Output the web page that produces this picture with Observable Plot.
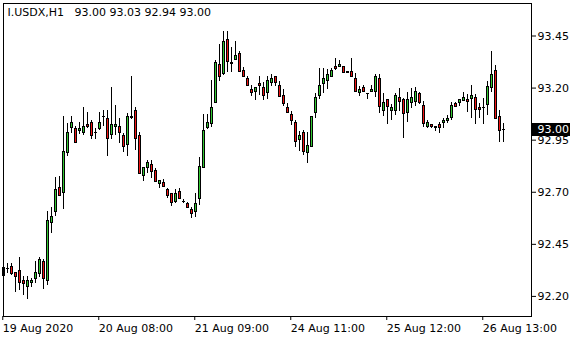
<!DOCTYPE html>
<html>
<head>
<meta charset="utf-8">
<script src="https://cdn.jsdelivr.net/npm/d3@7"></script>
<script src="https://cdn.jsdelivr.net/npm/@observablehq/plot@0.6"></script>
<style>
  html, body { margin: 0; padding: 0; background: #fff; }
  svg rect, svg line { shape-rendering: crispEdges; }
</style>
</head>
<body>
<script>
const titleText = "I.USDX,H1\u00a0\u00a0\u00a093.00 93.03 92.94 93.00";

const open = [92.296,92.333,92.344,92.315,92.323,92.276,92.244,92.263,92.283,92.304,
92.368,92.273,92.551,92.604,92.723,92.693,92.885,93.005,93.005,92.992,
92.983,93.025,93.035,92.987,93.003,93.062,93.054,92.971,93.012,93.016,
92.971,92.923,93.053,93.092,92.972,92.776,92.813,92.832,92.804,92.736,
92.748,92.713,92.693,92.652,92.704,92.656,92.645,92.617,92.604,92.664,
92.813,93.005,93.024,93.125,93.312,93.264,93.433,93.312,93.332,93.365,
93.284,93.247,93.192,93.180,93.223,93.204,93.173,93.221,93.256,93.212,
93.164,93.105,93.073,93.036,92.948,92.988,92.885,92.913,93.079,93.161,
93.216,93.233,93.252,93.304,93.300,93.304,93.281,93.281,93.245,93.173,
93.201,93.176,93.180,93.180,93.245,93.089,93.145,93.089,93.089,93.156,
93.145,93.079,93.125,93.132,93.173,93.116,93.012,93.024,93.005,93.025,
93.031,93.040,93.053,93.125,93.125,93.136,93.145,93.145,93.153,93.108,
93.105,93.116,93.199,93.284,93.064,93.000];

const high = [92.368,92.358,92.357,92.315,92.387,92.296,92.296,92.285,92.368,92.388,
92.377,92.608,92.628,92.769,92.776,93.064,93.029,93.064,93.016,93.035,
93.108,93.084,93.044,93.005,93.084,93.092,93.092,93.204,93.116,93.054,
92.981,93.077,93.257,93.108,92.988,92.820,92.852,92.852,92.813,92.756,
92.761,92.719,92.693,92.713,92.717,92.665,92.652,92.628,92.693,92.868,
93.072,93.072,93.236,93.334,93.409,93.472,93.472,93.396,93.424,93.376,
93.300,93.257,93.212,93.204,93.256,93.228,93.256,93.265,93.256,93.233,
93.192,93.127,93.089,93.044,92.993,92.996,92.988,93.064,93.175,93.293,
93.293,93.288,93.293,93.341,93.332,93.304,93.281,93.341,93.271,93.208,
93.212,93.176,93.212,93.265,93.265,93.176,93.145,93.120,93.173,93.197,
93.149,93.180,93.199,93.204,93.180,93.136,93.044,93.024,93.016,93.033,
93.055,93.068,93.129,93.129,93.145,93.180,93.168,93.212,93.168,93.125,
93.149,93.232,93.376,93.308,93.092,93.030];

const low = [92.263,92.310,92.300,92.220,92.228,92.203,92.184,92.244,92.263,92.289,
92.235,92.254,92.503,92.584,92.680,92.616,92.872,92.983,92.933,92.977,
92.972,93.005,92.952,92.952,92.996,93.016,92.872,92.952,92.972,92.933,
92.892,92.872,93.049,92.900,92.784,92.752,92.791,92.765,92.745,92.719,
92.721,92.671,92.633,92.645,92.664,92.645,92.623,92.573,92.580,92.636,
92.813,93.001,93.012,93.125,93.232,93.260,93.273,93.273,93.332,93.273,
93.252,93.209,93.161,93.140,93.164,93.140,93.144,93.209,93.209,93.153,
93.112,93.079,93.020,92.916,92.896,92.876,92.839,92.913,93.053,93.144,
93.175,93.192,93.249,93.284,93.300,93.271,93.271,93.252,93.180,93.161,
93.180,93.144,93.180,93.156,93.079,93.062,93.024,93.044,93.068,93.088,
92.959,93.033,93.101,93.113,93.120,93.012,93.005,93.005,92.993,92.983,
93.005,93.029,93.044,93.105,93.113,93.136,93.084,93.053,93.024,93.053,
93.024,93.068,93.180,93.049,92.940,92.940];

const close = [92.340,92.333,92.304,92.292,92.263,92.256,92.276,92.276,92.315,92.377,
92.283,92.564,92.584,92.712,92.681,92.896,92.987,93.035,92.933,93.006,
93.016,93.012,92.969,92.987,93.035,93.062,92.952,93.025,93.025,92.983,
92.913,93.064,93.065,92.952,92.784,92.820,92.844,92.793,92.745,92.756,
92.721,92.681,92.645,92.693,92.664,92.656,92.623,92.592,92.645,92.824,
92.996,93.033,93.105,93.323,93.252,93.424,93.321,93.323,93.356,93.273,
93.252,93.209,93.173,93.201,93.209,93.161,93.236,93.245,93.221,93.153,
93.121,93.079,93.041,92.940,92.972,92.892,92.924,93.064,93.153,93.212,
93.245,93.265,93.284,93.289,93.312,93.271,93.271,93.252,93.180,93.192,
93.180,93.176,93.192,93.256,93.105,93.133,93.105,93.108,93.164,93.132,
93.072,93.145,93.156,93.184,93.125,93.024,93.036,93.012,93.016,93.005,
93.044,93.055,93.116,93.105,93.145,93.156,93.132,93.164,93.092,93.092,
93.105,93.209,93.264,93.049,92.992,93.000];

const xTickBars = [0, 24, 48, 72, 96, 120];
const xTickLabels = ["19 Aug 2020", "20 Aug 08:00", "21 Aug 09:00", "24 Aug 11:00", "25 Aug 12:00", "26 Aug 13:00"];
const yTicks = [92.20, 92.45, 92.70, 92.95, 93.20, 93.45];

const bullColor = "#32c832";
const bearColor = "#f01414";

const yDomain = [92.1036, 93.606];
const pxPerUnit = (340 - 3 - 24) / (yDomain[1] - yDomain[0]);

const bars = open.map((o, i) => ({i, o, h: high[i], l: low[i], c: close[i],
  top: Math.max(open[i], close[i]), bot: Math.min(open[i], close[i])}));
const bodies = bars.filter(d => d.c !== d.o);
const tall = bodies.filter(d => (d.top - d.bot) * pxPerUnit > 2.2);
const bullIn = tall.filter(d => d.c > d.o);
const bearIn = tall.filter(d => d.c < d.o);
const doji = bars.filter(d => d.c === d.o);
const last = close[close.length - 1];

const chart = Plot.plot({
  width: 580,
  height: 340,
  marginLeft: 3,
  marginRight: 49,
  marginTop: 3,
  marginBottom: 24,
  x: {domain: [-0.0625, 131.9375]},
  y: {domain: yDomain},
  style: {fontFamily: "DejaVu Sans", fontSize: "11px", background: "white", color: "black", overflow: "visible"},
  marks: [
    // wicks
    Plot.ruleX(bars, {x: "i", y1: "l", y2: "h", stroke: "black", strokeWidth: 1}),
    // body outline: black 3px-wide block
    Plot.rect(bodies, {x1: d => d.i - 0.375, x2: d => d.i + 0.375, y1: "top", y2: "bot", fill: "black"}),
    // body fill: 1px colour inside
    Plot.rect(bullIn, {x1: d => d.i - 0.125, x2: d => d.i + 0.125, y1: "top", y2: "bot", insetTop: 1, insetBottom: 1, fill: bullColor}),
    Plot.rect(bearIn, {x1: d => d.i - 0.125, x2: d => d.i + 0.125, y1: "top", y2: "bot", insetTop: 1, insetBottom: 1, fill: bearColor}),
    // doji bars
    Plot.ruleY(doji, {y: "c", x1: d => d.i - 0.375, x2: d => d.i + 0.375, stroke: "black", strokeWidth: 1}),
    Plot.frame({stroke: "black"}),
    Plot.axisY({anchor: "right", ticks: yTicks, tickSize: 4, tickPadding: 2, tickFormat: d => d.toFixed(2), label: null, fontSize: 11}),
    Plot.axisX({anchor: "bottom", ticks: xTickBars, tickSize: 4, tickPadding: 4, textAnchor: "start", dx: -1,
      tickFormat: d => xTickLabels[xTickBars.indexOf(d)], label: null, fontSize: 11}),
    Plot.text([titleText], {text: d => d, frameAnchor: "top-left", dx: 4, dy: 5, textAnchor: "start", lineAnchor: "top", fontSize: 11, fill: "black"}),
    Plot.text([last], {y: d => d, text: d => d.toFixed(2), frameAnchor: "right", dx: 6, textAnchor: "start", fill: "white", fontSize: 11})
  ]
});
document.body.appendChild(chart);

// black background box behind the current price label (the white text)
const curTexts = [];
chart.querySelectorAll('g[fill="white"] text, text[fill="white"]').forEach(t => curTexts.push(t));
curTexts.forEach(t => {
  const bb = t.getBBox();
  const r = document.createElementNS("http://www.w3.org/2000/svg", "rect");
  r.setAttribute("x", bb.x - 5.5);
  r.setAttribute("y", bb.y);
  r.setAttribute("width", bb.width + 6);
  r.setAttribute("height", bb.height);
  r.setAttribute("fill", "black");
  const tr = t.getAttribute("transform");
  if (tr) r.setAttribute("transform", tr);
  t.parentNode.insertBefore(r, t);
});
</script>
</body>
</html>
